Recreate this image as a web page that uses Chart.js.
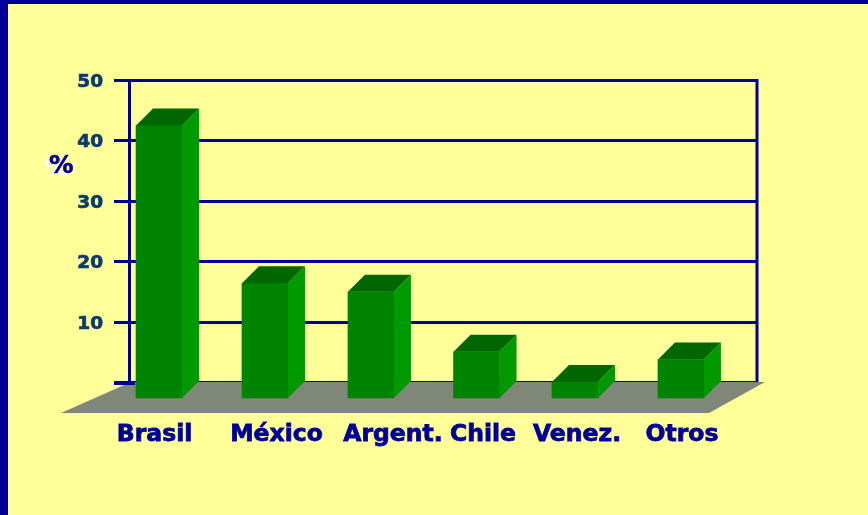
<!DOCTYPE html>
<html>
<head>
<meta charset="utf-8">
<style>
html,body{margin:0;padding:0;width:868px;height:515px;overflow:hidden;background:#FFFF99;}
#bar-top{position:absolute;left:0;top:0;width:868px;height:4px;background:#000099;}
#bar-left{position:absolute;left:0;top:0;width:8px;height:515px;background:#000099;}
canvas{position:absolute;left:0;top:0;}
</style>
<script src="https://cdn.jsdelivr.net/npm/chart.js@4"></script>
</head>
<body>
<div id="bar-top"></div><div id="bar-left"></div>
<canvas id="c" width="868" height="515"></canvas>
<script>
const categories = ['Brasil', 'México', 'Argent.', 'Chile', 'Venez.', 'Otros'];
const shares = [45.3, 19.2, 17.8, 7.9, 2.9, 6.6];
const yTickValues = [0, 10, 20, 30, 40, 50];
const axisUnit = '%';

// Layout and style constants (not data)
const NAVY = '#000099', TICK_TEXT = '#0A3A6E';
const DEPTH_X = 17, DEPTH_Y = 17;
const barShift = [-22.3, -21, -19.7, -18.8, -25, -23.7];
const labelShift = [-26.8, -9.5, 2.3, -12.3, -23, -22.7];

const pseudo3d = {
  id: 'pseudo3d',
  afterDatasetsUpdate(chart) {
    chart.getDatasetMeta(0).data.forEach((el, i) => {
      el.x += barShift[i];
      el.y += DEPTH_Y;
      el.base += DEPTH_Y;
    });
  },
  beforeDraw(chart) {
    chart.scales.x.getLabelItems().forEach((item, i) => {
      if (!item._moved) {
        item.options.translation[0] += labelShift[i];
        item._moved = true;
      }
    });
    chart.scales.y.getLabelItems().forEach(item => {
      if (!item._moved) {
        item.options.translation[1] += 2;
        item._moved = true;
      }
    });
  },
  beforeDatasetsDraw(chart) {
    const { ctx, chartArea: a, scales: { y } } = chart;
    const y0 = Math.round(y.getPixelForValue(0));
    ctx.save();
    // right wall edge
    ctx.strokeStyle = NAVY; ctx.lineWidth = 3;
    ctx.beginPath(); ctx.moveTo(a.right, a.top - 1); ctx.lineTo(a.right, y0); ctx.stroke();
    // floor
    ctx.fillStyle = '#7F8778';
    ctx.beginPath();
    ctx.moveTo(a.left + 2, y0 - 1);
    ctx.lineTo(a.right + 8, y0 - 1);
    ctx.lineTo(a.right - 48, y0 + 30);
    ctx.lineTo(a.left - 68, y0 + 30);
    ctx.closePath(); ctx.fill();
    // baseline tick that sits over the floor
    ctx.strokeStyle = NAVY; ctx.lineWidth = 3;
    ctx.beginPath(); ctx.moveTo(a.left - 15, y0 + 0.5); ctx.lineTo(a.left + 6, y0 + 0.5); ctx.stroke();
    ctx.restore();
  },
  afterDatasetsDraw(chart) {
    const { ctx } = chart;
    ctx.save();
    chart.getDatasetMeta(0).data.forEach(el => {
      const l = el.x - el.width / 2, r = el.x + el.width / 2, t = el.y, b = el.base;
      ctx.fillStyle = '#006600';
      ctx.beginPath();
      ctx.moveTo(l, t); ctx.lineTo(l + DEPTH_X, t - DEPTH_Y);
      ctx.lineTo(r + DEPTH_X, t - DEPTH_Y); ctx.lineTo(r, t);
      ctx.closePath(); ctx.fill();
      ctx.fillStyle = '#009900';
      ctx.beginPath();
      ctx.moveTo(r, t); ctx.lineTo(r + DEPTH_X, t - DEPTH_Y);
      ctx.lineTo(r + DEPTH_X, b - DEPTH_Y); ctx.lineTo(r, b);
      ctx.closePath(); ctx.fill();
    });
    // axis unit with its white drop shadow
    ctx.font = 'bold 24.5px "DejaVu Sans"';
    ctx.textAlign = 'left'; ctx.textBaseline = 'middle';
    ctx.fillStyle = '#FFFFFF';
    ctx.fillText(axisUnit, 44, 170);
    ctx.fillStyle = NAVY;
    ctx.strokeStyle = NAVY; ctx.lineWidth = 0.6;
    ctx.fillText(axisUnit, 49, 167);
    ctx.strokeText(axisUnit, 49, 167);
    ctx.restore();
  }
};

new Chart(document.getElementById('c'), {
  type: 'bar',
  data: {
    labels: categories,
    datasets: [{
      data: shares,
      backgroundColor: '#008400',
      borderWidth: 0,
      barThickness: 46,
      clip: false
    }]
  },
  options: {
    responsive: false,
    animation: false,
    layout: { padding: { top: 80, right: 111, left: 0, bottom: 0 } },
    plugins: { legend: { display: false }, tooltip: { enabled: false }, title: { display: false } },
    scales: {
      x: {
        afterFit(s) { s.height = 132.5; },
        grid: { display: false },
        border: { display: false },
        ticks: {
          maxRotation: 0, autoSkip: false, padding: 30,
          color: NAVY,
          textStrokeColor: NAVY,
          textStrokeWidth: 0.8,
          font: { family: '"DejaVu Sans"', weight: 'bold', size: 23.5 }
        }
      },
      y: {
        min: 0, max: 50,
        afterFit(s) { s.width = 129; },
        afterBuildTicks(s) { s.ticks = yTickValues.map(v => ({ value: v })); },
        border: { display: true, color: NAVY, width: 3 },
        grid: { color: NAVY, lineWidth: 3, tickLength: 15, drawTicks: true },
        ticks: {
          padding: 11,
          color: TICK_TEXT,
          textStrokeColor: TICK_TEXT,
          textStrokeWidth: 0.7,
          font: { family: '"DejaVu Sans"', weight: 'bold', size: 18.5 },
          callback: v => (v === 0 ? '' : v)
        }
      }
    }
  },
  plugins: [pseudo3d]
});
</script>
</body>
</html>
